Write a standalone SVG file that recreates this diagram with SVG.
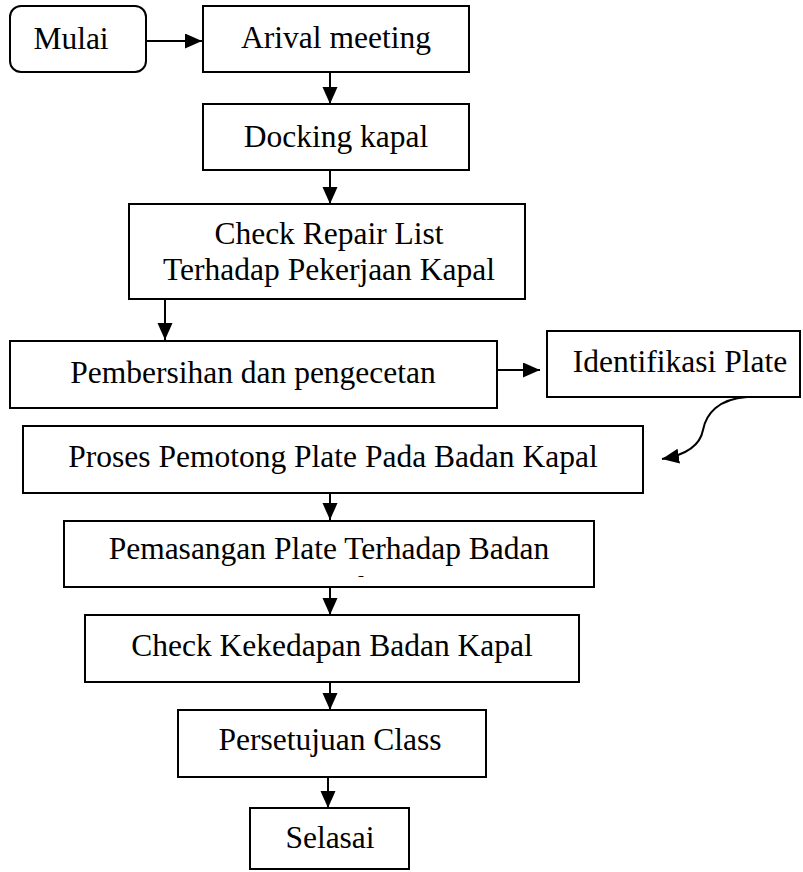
<svg xmlns="http://www.w3.org/2000/svg" width="803" height="872" viewBox="0 0 803 872">
<style>
.box{fill:#fff;stroke:#000;stroke-width:2}
.t{font-family:"Liberation Serif","Times New Roman",serif;font-size:31.5px;fill:#000;text-anchor:middle}
.c{fill:none;stroke:#000;stroke-width:2}
</style>
<defs>
<marker id="ah" markerUnits="userSpaceOnUse" markerWidth="18" markerHeight="16" refX="17" refY="7.5" orient="auto">
<path d="M0,0 L17,7.5 L0,15 z" fill="#000"/>
</marker>
<clipPath id="clipPem"><rect x="64" y="521" width="530" height="56"/></clipPath>
</defs>
<g id="connectors">
<line class="c" x1="146" y1="41" x2="202" y2="41" marker-end="url(#ah)"/>
<line class="c" x1="330" y1="72" x2="330" y2="104" marker-end="url(#ah)"/>
<line class="c" x1="330" y1="170" x2="330" y2="204" marker-end="url(#ah)"/>
<line class="c" x1="165" y1="299" x2="165" y2="340" marker-end="url(#ah)"/>
<line class="c" x1="497" y1="370" x2="540" y2="370" marker-end="url(#ah)"/>
<path class="c" d="M747,397 C718,399 706,414 703,430 C700,446 686,455 662,459" marker-end="url(#ah)"/>
<line class="c" x1="330" y1="493" x2="330" y2="520" marker-end="url(#ah)"/>
<line class="c" x1="330" y1="587" x2="330" y2="615" marker-end="url(#ah)"/>
<line class="c" x1="330" y1="682" x2="330" y2="710" marker-end="url(#ah)"/>
<line class="c" x1="328" y1="777" x2="328" y2="808" marker-end="url(#ah)"/>
</g>
<g id="mulai">
<rect class="box" x="10" y="6" width="136" height="66" rx="11" ry="11"/>
<text class="t" x="71" y="49">Mulai</text>
</g>
<g id="arival">
<rect class="box" x="203" y="6" width="266" height="66"/>
<text class="t" x="336" y="48">Arival meeting</text>
</g>
<g id="docking">
<rect class="box" x="203" y="104" width="266" height="66"/>
<text class="t" x="336" y="147">Docking kapal</text>
</g>
<g id="check-repair">
<rect class="box" x="129" y="204" width="396" height="95"/>
<text class="t" x="329" y="244">Check Repair List</text>
<text class="t" x="329" y="280">Terhadap Pekerjaan Kapal</text>
</g>
<g id="pembersihan">
<rect class="box" x="10" y="341" width="487" height="67"/>
<text class="t" x="253" y="383">Pembersihan dan pengecetan</text>
</g>
<g id="identifikasi">
<rect class="box" x="547" y="331" width="253" height="66"/>
<text class="t" x="680" y="372">Identifikasi Plate</text>
</g>
<g id="proses">
<rect class="box" x="23" y="426" width="620" height="67"/>
<text class="t" x="333" y="467">Proses Pemotong Plate Pada Badan Kapal</text>
</g>
<g id="pemasangan">
<rect class="box" x="64" y="521" width="530" height="66"/>
<text class="t" x="329" y="559">Pemasangan Plate Terhadap Badan</text>
<text class="t" x="329" y="598" clip-path="url(#clipPem)">Kapal</text>
</g>
<g id="check-kekedapan">
<rect class="box" x="85" y="615" width="494" height="67"/>
<text class="t" x="332" y="656">Check Kekedapan Badan Kapal</text>
</g>
<g id="persetujuan">
<rect class="box" x="178" y="710" width="308" height="67"/>
<text class="t" x="330" y="750">Persetujuan Class</text>
</g>
<g id="selasai">
<rect class="box" x="250" y="808" width="159" height="61"/>
<text class="t" x="330" y="848">Selasai</text>
</g>
</svg>
